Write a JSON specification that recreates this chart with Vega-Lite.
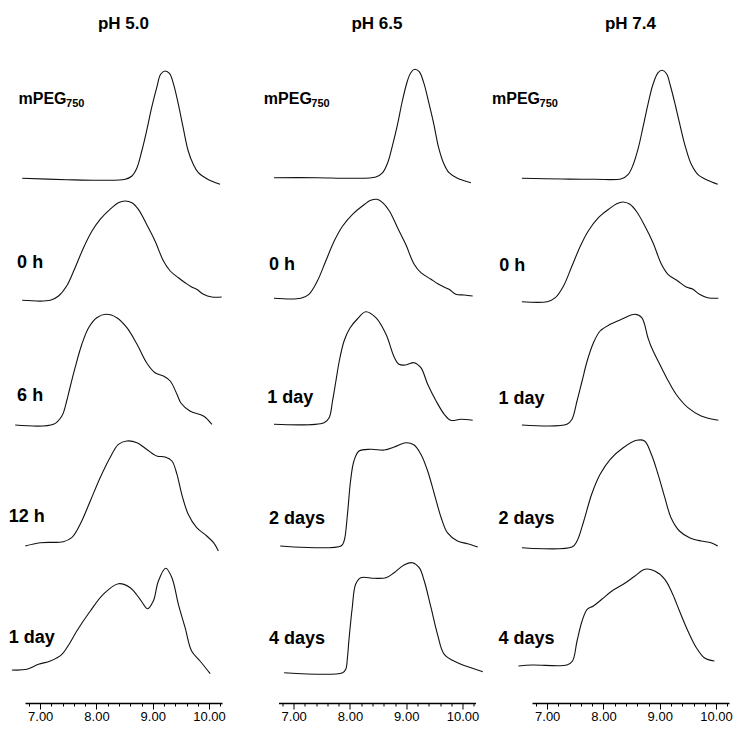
{
  "$schema": "https://vega.github.io/schema/vega-lite/v6.json",
  "padding": {"left": 8, "top": 15, "right": 0, "bottom": 0},
  "background": "white",
  "bounds": "flush",
  "config": {"view": {"stroke": null}},
  "data": {"values": [
    {"p":"pH 5.0","r":0,"x":6.68,"y":4.7},{"p":"pH 5.0","r":0,"x":7.47,"y":3.3},{"p":"pH 5.0","r":0,"x":8.065,"y":2.7},{"p":"pH 5.0","r":0,"x":8.51,"y":3.7},{"p":"pH 5.0","r":0,"x":8.63,"y":7},{"p":"pH 5.0","r":0,"x":8.72,"y":15.3},{"p":"pH 5.0","r":0,"x":8.805,"y":32},{"p":"pH 5.0","r":0,"x":8.89,"y":52},{"p":"pH 5.0","r":0,"x":8.98,"y":75.3},{"p":"pH 5.0","r":0,"x":9.07,"y":95.3},{"p":"pH 5.0","r":0,"x":9.14,"y":108.7},{"p":"pH 5.0","r":0,"x":9.22,"y":112},{"p":"pH 5.0","r":0,"x":9.3,"y":109.3},{"p":"pH 5.0","r":0,"x":9.37,"y":98.7},{"p":"pH 5.0","r":0,"x":9.455,"y":78.7},{"p":"pH 5.0","r":0,"x":9.54,"y":55.3},{"p":"pH 5.0","r":0,"x":9.63,"y":32},{"p":"pH 5.0","r":0,"x":9.72,"y":18.7},{"p":"pH 5.0","r":0,"x":9.81,"y":10.3},{"p":"pH 5.0","r":0,"x":9.96,"y":4.3},{"p":"pH 5.0","r":0,"x":10.195,"y":-1.3},
    {"p":"pH 5.0","r":1,"x":6.68,"y":4.7},{"p":"pH 5.0","r":1,"x":7.18,"y":4.7},{"p":"pH 5.0","r":1,"x":7.325,"y":9},{"p":"pH 5.0","r":1,"x":7.47,"y":19},{"p":"pH 5.0","r":1,"x":7.62,"y":37.3},{"p":"pH 5.0","r":1,"x":7.77,"y":57.3},{"p":"pH 5.0","r":1,"x":7.92,"y":74},{"p":"pH 5.0","r":1,"x":8.065,"y":85.7},{"p":"pH 5.0","r":1,"x":8.24,"y":95.7},{"p":"pH 5.0","r":1,"x":8.39,"y":102.3},{"p":"pH 5.0","r":1,"x":8.51,"y":104},{"p":"pH 5.0","r":1,"x":8.63,"y":102.3},{"p":"pH 5.0","r":1,"x":8.745,"y":95.7},{"p":"pH 5.0","r":1,"x":8.89,"y":80.7},{"p":"pH 5.0","r":1,"x":9.04,"y":64},{"p":"pH 5.0","r":1,"x":9.19,"y":44},{"p":"pH 5.0","r":1,"x":9.31,"y":34},{"p":"pH 5.0","r":1,"x":9.455,"y":27.3},{"p":"pH 5.0","r":1,"x":9.575,"y":22.3},{"p":"pH 5.0","r":1,"x":9.69,"y":18},{"p":"pH 5.0","r":1,"x":9.78,"y":15.7},{"p":"pH 5.0","r":1,"x":9.9,"y":10.7},{"p":"pH 5.0","r":1,"x":10.05,"y":8},{"p":"pH 5.0","r":1,"x":10.225,"y":8},
    {"p":"pH 5.0","r":2,"x":6.556,"y":2},{"p":"pH 5.0","r":2,"x":7.236,"y":2.7},{"p":"pH 5.0","r":2,"x":7.385,"y":11},{"p":"pH 5.0","r":2,"x":7.47,"y":26},{"p":"pH 5.0","r":2,"x":7.5,"y":32.7},{"p":"pH 5.0","r":2,"x":7.62,"y":59.3},{"p":"pH 5.0","r":2,"x":7.74,"y":82.7},{"p":"pH 5.0","r":2,"x":7.86,"y":99.3},{"p":"pH 5.0","r":2,"x":8.005,"y":109.3},{"p":"pH 5.0","r":2,"x":8.17,"y":112.7},{"p":"pH 5.0","r":2,"x":8.36,"y":109.3},{"p":"pH 5.0","r":2,"x":8.54,"y":99.3},{"p":"pH 5.0","r":2,"x":8.72,"y":82.7},{"p":"pH 5.0","r":2,"x":8.89,"y":64.3},{"p":"pH 5.0","r":2,"x":9.04,"y":54.3},{"p":"pH 5.0","r":2,"x":9.19,"y":51},{"p":"pH 5.0","r":2,"x":9.31,"y":46},{"p":"pH 5.0","r":2,"x":9.43,"y":32.7},{"p":"pH 5.0","r":2,"x":9.5,"y":24},{"p":"pH 5.0","r":2,"x":9.66,"y":16},{"p":"pH 5.0","r":2,"x":9.9,"y":11},{"p":"pH 5.0","r":2,"x":10.05,"y":2.7},
    {"p":"pH 5.0","r":3,"x":6.734,"y":3},{"p":"pH 5.0","r":3,"x":7.0,"y":6.3},{"p":"pH 5.0","r":3,"x":7.41,"y":7.3},{"p":"pH 5.0","r":3,"x":7.56,"y":11.3},{"p":"pH 5.0","r":3,"x":7.71,"y":24.7},{"p":"pH 5.0","r":3,"x":7.89,"y":48},{"p":"pH 5.0","r":3,"x":8.065,"y":71.3},{"p":"pH 5.0","r":3,"x":8.24,"y":91.3},{"p":"pH 5.0","r":3,"x":8.39,"y":104.7},{"p":"pH 5.0","r":3,"x":8.54,"y":108},{"p":"pH 5.0","r":3,"x":8.72,"y":106.3},{"p":"pH 5.0","r":3,"x":8.89,"y":99.7},{"p":"pH 5.0","r":3,"x":9.07,"y":93},{"p":"pH 5.0","r":3,"x":9.22,"y":92},{"p":"pH 5.0","r":3,"x":9.34,"y":88},{"p":"pH 5.0","r":3,"x":9.43,"y":74.7},{"p":"pH 5.0","r":3,"x":9.515,"y":54.7},{"p":"pH 5.0","r":3,"x":9.63,"y":34.7},{"p":"pH 5.0","r":3,"x":9.78,"y":21.3},{"p":"pH 5.0","r":3,"x":9.96,"y":13},{"p":"pH 5.0","r":3,"x":10.08,"y":6.3},{"p":"pH 5.0","r":3,"x":10.165,"y":-2},
    {"p":"pH 5.0","r":4,"x":6.497,"y":1},{"p":"pH 5.0","r":4,"x":6.764,"y":1.7},{"p":"pH 5.0","r":4,"x":6.97,"y":6.7},{"p":"pH 5.0","r":4,"x":7.18,"y":10},{"p":"pH 5.0","r":4,"x":7.385,"y":16.7},{"p":"pH 5.0","r":4,"x":7.53,"y":28.3},{"p":"pH 5.0","r":4,"x":7.65,"y":40},{"p":"pH 5.0","r":4,"x":7.89,"y":60},{"p":"pH 5.0","r":4,"x":8.12,"y":76.7},{"p":"pH 5.0","r":4,"x":8.39,"y":87.3},{"p":"pH 5.0","r":4,"x":8.6,"y":83.3},{"p":"pH 5.0","r":4,"x":8.775,"y":71.7},{"p":"pH 5.0","r":4,"x":8.91,"y":62.3},{"p":"pH 5.0","r":4,"x":9.01,"y":70},{"p":"pH 5.0","r":4,"x":9.1,"y":90},{"p":"pH 5.0","r":4,"x":9.23,"y":102.7},{"p":"pH 5.0","r":4,"x":9.34,"y":93.3},{"p":"pH 5.0","r":4,"x":9.455,"y":66.7},{"p":"pH 5.0","r":4,"x":9.575,"y":43.3},{"p":"pH 5.0","r":4,"x":9.69,"y":20},{"p":"pH 5.0","r":4,"x":9.84,"y":10},{"p":"pH 5.0","r":4,"x":10.02,"y":-2.7},
    {"p":"pH 6.5","r":0,"x":6.65,"y":5.3},{"p":"pH 6.5","r":0,"x":7.42,"y":5.3},{"p":"pH 6.5","r":0,"x":8.01,"y":4.7},{"p":"pH 6.5","r":0,"x":8.46,"y":6},{"p":"pH 6.5","r":0,"x":8.58,"y":10.3},{"p":"pH 6.5","r":0,"x":8.67,"y":20.3},{"p":"pH 6.5","r":0,"x":8.76,"y":38.7},{"p":"pH 6.5","r":0,"x":8.845,"y":58.7},{"p":"pH 6.5","r":0,"x":8.93,"y":82},{"p":"pH 6.5","r":0,"x":9.02,"y":102},{"p":"pH 6.5","r":0,"x":9.08,"y":110.3},{"p":"pH 6.5","r":0,"x":9.15,"y":113.7},{"p":"pH 6.5","r":0,"x":9.23,"y":111.3},{"p":"pH 6.5","r":0,"x":9.31,"y":100.3},{"p":"pH 6.5","r":0,"x":9.4,"y":80.3},{"p":"pH 6.5","r":0,"x":9.49,"y":58.7},{"p":"pH 6.5","r":0,"x":9.575,"y":35.3},{"p":"pH 6.5","r":0,"x":9.66,"y":20.3},{"p":"pH 6.5","r":0,"x":9.76,"y":10.3},{"p":"pH 6.5","r":0,"x":9.91,"y":4.7},{"p":"pH 6.5","r":0,"x":10.15,"y":0.3},
    {"p":"pH 6.5","r":1,"x":6.65,"y":6.7},{"p":"pH 6.5","r":1,"x":7.125,"y":6.7},{"p":"pH 6.5","r":1,"x":7.27,"y":10.7},{"p":"pH 6.5","r":1,"x":7.42,"y":24},{"p":"pH 6.5","r":1,"x":7.57,"y":44},{"p":"pH 6.5","r":1,"x":7.72,"y":64},{"p":"pH 6.5","r":1,"x":7.87,"y":79},{"p":"pH 6.5","r":1,"x":8.045,"y":90.7},{"p":"pH 6.5","r":1,"x":8.22,"y":99},{"p":"pH 6.5","r":1,"x":8.37,"y":104.7},{"p":"pH 6.5","r":1,"x":8.48,"y":105.7},{"p":"pH 6.5","r":1,"x":8.58,"y":102.3},{"p":"pH 6.5","r":1,"x":8.7,"y":94},{"p":"pH 6.5","r":1,"x":8.845,"y":77.3},{"p":"pH 6.5","r":1,"x":8.99,"y":60.7},{"p":"pH 6.5","r":1,"x":9.14,"y":40.7},{"p":"pH 6.5","r":1,"x":9.26,"y":32.3},{"p":"pH 6.5","r":1,"x":9.44,"y":25.7},{"p":"pH 6.5","r":1,"x":9.56,"y":21.3},{"p":"pH 6.5","r":1,"x":9.67,"y":18},{"p":"pH 6.5","r":1,"x":9.76,"y":15.7},{"p":"pH 6.5","r":1,"x":9.88,"y":10.7},{"p":"pH 6.5","r":1,"x":10.03,"y":10},{"p":"pH 6.5","r":1,"x":10.18,"y":9},
    {"p":"pH 6.5","r":2,"x":6.65,"y":2.7},{"p":"pH 6.5","r":2,"x":7.54,"y":4.3},{"p":"pH 6.5","r":2,"x":7.63,"y":9.3},{"p":"pH 6.5","r":2,"x":7.69,"y":26},{"p":"pH 6.5","r":2,"x":7.75,"y":46},{"p":"pH 6.5","r":2,"x":7.81,"y":66},{"p":"pH 6.5","r":2,"x":7.895,"y":86},{"p":"pH 6.5","r":2,"x":8.0,"y":99},{"p":"pH 6.5","r":2,"x":8.13,"y":108},{"p":"pH 6.5","r":2,"x":8.28,"y":115.3},{"p":"pH 6.5","r":2,"x":8.46,"y":109.3},{"p":"pH 6.5","r":2,"x":8.64,"y":92.7},{"p":"pH 6.5","r":2,"x":8.785,"y":70},{"p":"pH 6.5","r":2,"x":8.87,"y":62.7},{"p":"pH 6.5","r":2,"x":8.99,"y":62},{"p":"pH 6.5","r":2,"x":9.14,"y":64.3},{"p":"pH 6.5","r":2,"x":9.26,"y":59.3},{"p":"pH 6.5","r":2,"x":9.38,"y":42.7},{"p":"pH 6.5","r":2,"x":9.53,"y":26},{"p":"pH 6.5","r":2,"x":9.675,"y":12.7},{"p":"pH 6.5","r":2,"x":9.79,"y":6.7},{"p":"pH 6.5","r":2,"x":9.97,"y":7.7},{"p":"pH 6.5","r":2,"x":10.18,"y":6.7},
    {"p":"pH 6.5","r":3,"x":6.76,"y":3},{"p":"pH 6.5","r":3,"x":7.84,"y":3},{"p":"pH 6.5","r":3,"x":7.895,"y":8},{"p":"pH 6.5","r":3,"x":7.955,"y":34.7},{"p":"pH 6.5","r":3,"x":8.01,"y":68},{"p":"pH 6.5","r":3,"x":8.07,"y":88},{"p":"pH 6.5","r":3,"x":8.16,"y":98},{"p":"pH 6.5","r":3,"x":8.37,"y":99.7},{"p":"pH 6.5","r":3,"x":8.61,"y":99},{"p":"pH 6.5","r":3,"x":8.785,"y":102},{"p":"pH 6.5","r":3,"x":8.99,"y":106.3},{"p":"pH 6.5","r":3,"x":9.14,"y":104},{"p":"pH 6.5","r":3,"x":9.26,"y":94.7},{"p":"pH 6.5","r":3,"x":9.38,"y":78},{"p":"pH 6.5","r":3,"x":9.5,"y":54.7},{"p":"pH 6.5","r":3,"x":9.62,"y":31.3},{"p":"pH 6.5","r":3,"x":9.73,"y":16.3},{"p":"pH 6.5","r":3,"x":9.91,"y":8},{"p":"pH 6.5","r":3,"x":10.09,"y":5.3},{"p":"pH 6.5","r":3,"x":10.27,"y":2},
    {"p":"pH 6.5","r":4,"x":6.83,"y":-1.7},{"p":"pH 6.5","r":4,"x":7.87,"y":-1.7},{"p":"pH 6.5","r":4,"x":7.925,"y":1.7},{"p":"pH 6.5","r":4,"x":7.955,"y":13.3},{"p":"pH 6.5","r":4,"x":7.98,"y":30},{"p":"pH 6.5","r":4,"x":8.04,"y":63.3},{"p":"pH 6.5","r":4,"x":8.1,"y":86.7},{"p":"pH 6.5","r":4,"x":8.19,"y":93.3},{"p":"pH 6.5","r":4,"x":8.43,"y":92.7},{"p":"pH 6.5","r":4,"x":8.64,"y":93.3},{"p":"pH 6.5","r":4,"x":8.785,"y":98.3},{"p":"pH 6.5","r":4,"x":8.96,"y":106},{"p":"pH 6.5","r":4,"x":9.11,"y":108.3},{"p":"pH 6.5","r":4,"x":9.23,"y":103.3},{"p":"pH 6.5","r":4,"x":9.32,"y":90},{"p":"pH 6.5","r":4,"x":9.44,"y":63.3},{"p":"pH 6.5","r":4,"x":9.555,"y":36.7},{"p":"pH 6.5","r":4,"x":9.675,"y":16.7},{"p":"pH 6.5","r":4,"x":9.91,"y":8.3},{"p":"pH 6.5","r":4,"x":10.15,"y":3.3},{"p":"pH 6.5","r":4,"x":10.36,"y":-0.7},
    {"p":"pH 7.4","r":0,"x":6.55,"y":4.7},{"p":"pH 7.4","r":0,"x":7.265,"y":4},{"p":"pH 7.4","r":0,"x":7.85,"y":3.7},{"p":"pH 7.4","r":0,"x":8.32,"y":4.3},{"p":"pH 7.4","r":0,"x":8.44,"y":8.7},{"p":"pH 7.4","r":0,"x":8.53,"y":18.7},{"p":"pH 7.4","r":0,"x":8.62,"y":35.3},{"p":"pH 7.4","r":0,"x":8.7,"y":55.3},{"p":"pH 7.4","r":0,"x":8.79,"y":78.7},{"p":"pH 7.4","r":0,"x":8.88,"y":98.7},{"p":"pH 7.4","r":0,"x":8.97,"y":110.3},{"p":"pH 7.4","r":0,"x":9.04,"y":112.7},{"p":"pH 7.4","r":0,"x":9.12,"y":109.3},{"p":"pH 7.4","r":0,"x":9.19,"y":97},{"p":"pH 7.4","r":0,"x":9.28,"y":77},{"p":"pH 7.4","r":0,"x":9.37,"y":55.3},{"p":"pH 7.4","r":0,"x":9.46,"y":35.3},{"p":"pH 7.4","r":0,"x":9.56,"y":18.7},{"p":"pH 7.4","r":0,"x":9.675,"y":8.7},{"p":"pH 7.4","r":0,"x":9.85,"y":2.7},{"p":"pH 7.4","r":0,"x":10.03,"y":-1.3},
    {"p":"pH 7.4","r":1,"x":6.55,"y":3.3},{"p":"pH 7.4","r":1,"x":7.0,"y":3.3},{"p":"pH 7.4","r":1,"x":7.145,"y":7.3},{"p":"pH 7.4","r":1,"x":7.29,"y":19},{"p":"pH 7.4","r":1,"x":7.44,"y":39},{"p":"pH 7.4","r":1,"x":7.59,"y":59},{"p":"pH 7.4","r":1,"x":7.73,"y":74},{"p":"pH 7.4","r":1,"x":7.91,"y":87.3},{"p":"pH 7.4","r":1,"x":8.09,"y":95.7},{"p":"pH 7.4","r":1,"x":8.235,"y":101.3},{"p":"pH 7.4","r":1,"x":8.35,"y":103},{"p":"pH 7.4","r":1,"x":8.47,"y":100.7},{"p":"pH 7.4","r":1,"x":8.59,"y":93.3},{"p":"pH 7.4","r":1,"x":8.735,"y":79},{"p":"pH 7.4","r":1,"x":8.88,"y":62.3},{"p":"pH 7.4","r":1,"x":9.03,"y":40.7},{"p":"pH 7.4","r":1,"x":9.145,"y":30.7},{"p":"pH 7.4","r":1,"x":9.32,"y":24},{"p":"pH 7.4","r":1,"x":9.47,"y":18},{"p":"pH 7.4","r":1,"x":9.59,"y":15.7},{"p":"pH 7.4","r":1,"x":9.705,"y":10.7},{"p":"pH 7.4","r":1,"x":9.85,"y":7.3},{"p":"pH 7.4","r":1,"x":10.04,"y":6.7},
    {"p":"pH 7.4","r":2,"x":6.55,"y":2},{"p":"pH 7.4","r":2,"x":7.35,"y":2.7},{"p":"pH 7.4","r":2,"x":7.44,"y":7.7},{"p":"pH 7.4","r":2,"x":7.53,"y":26},{"p":"pH 7.4","r":2,"x":7.62,"y":46},{"p":"pH 7.4","r":2,"x":7.71,"y":66},{"p":"pH 7.4","r":2,"x":7.82,"y":84},{"p":"pH 7.4","r":2,"x":7.94,"y":96},{"p":"pH 7.4","r":2,"x":8.12,"y":102.7},{"p":"pH 7.4","r":2,"x":8.32,"y":107.7},{"p":"pH 7.4","r":2,"x":8.56,"y":112.7},{"p":"pH 7.4","r":2,"x":8.68,"y":109.3},{"p":"pH 7.4","r":2,"x":8.79,"y":89.3},{"p":"pH 7.4","r":2,"x":8.85,"y":80},{"p":"pH 7.4","r":2,"x":8.97,"y":66},{"p":"pH 7.4","r":2,"x":9.12,"y":49.3},{"p":"pH 7.4","r":2,"x":9.29,"y":32.7},{"p":"pH 7.4","r":2,"x":9.5,"y":19.3},{"p":"pH 7.4","r":2,"x":9.735,"y":11},{"p":"pH 7.4","r":2,"x":10.04,"y":6.7},
    {"p":"pH 7.4","r":3,"x":6.55,"y":1.3},{"p":"pH 7.4","r":3,"x":7.44,"y":2},{"p":"pH 7.4","r":3,"x":7.53,"y":8},{"p":"pH 7.4","r":3,"x":7.65,"y":28},{"p":"pH 7.4","r":3,"x":7.79,"y":54.7},{"p":"pH 7.4","r":3,"x":7.94,"y":74.7},{"p":"pH 7.4","r":3,"x":8.12,"y":89.7},{"p":"pH 7.4","r":3,"x":8.35,"y":101.3},{"p":"pH 7.4","r":3,"x":8.59,"y":108.7},{"p":"pH 7.4","r":3,"x":8.73,"y":108},{"p":"pH 7.4","r":3,"x":8.85,"y":94.7},{"p":"pH 7.4","r":3,"x":8.97,"y":74.7},{"p":"pH 7.4","r":3,"x":9.09,"y":51.3},{"p":"pH 7.4","r":3,"x":9.2,"y":31.3},{"p":"pH 7.4","r":3,"x":9.35,"y":18},{"p":"pH 7.4","r":3,"x":9.53,"y":11.3},{"p":"pH 7.4","r":3,"x":9.735,"y":8},{"p":"pH 7.4","r":3,"x":9.91,"y":6.3},{"p":"pH 7.4","r":3,"x":10.03,"y":3},
    {"p":"pH 7.4","r":4,"x":6.49,"y":5},{"p":"pH 7.4","r":4,"x":6.735,"y":6},{"p":"pH 7.4","r":4,"x":7.35,"y":6},{"p":"pH 7.4","r":4,"x":7.45,"y":10},{"p":"pH 7.4","r":4,"x":7.53,"y":30},{"p":"pH 7.4","r":4,"x":7.62,"y":50},{"p":"pH 7.4","r":4,"x":7.71,"y":61.7},{"p":"pH 7.4","r":4,"x":7.82,"y":65},{"p":"pH 7.4","r":4,"x":7.97,"y":71.7},{"p":"pH 7.4","r":4,"x":8.15,"y":80},{"p":"pH 7.4","r":4,"x":8.35,"y":86.7},{"p":"pH 7.4","r":4,"x":8.56,"y":95},{"p":"pH 7.4","r":4,"x":8.735,"y":101.7},{"p":"pH 7.4","r":4,"x":8.91,"y":100},{"p":"pH 7.4","r":4,"x":9.09,"y":91.7},{"p":"pH 7.4","r":4,"x":9.23,"y":76.7},{"p":"pH 7.4","r":4,"x":9.35,"y":60},{"p":"pH 7.4","r":4,"x":9.5,"y":40},{"p":"pH 7.4","r":4,"x":9.65,"y":23.3},{"p":"pH 7.4","r":4,"x":9.79,"y":13.3},{"p":"pH 7.4","r":4,"x":9.97,"y":10},
    {"p":"pH 5.0","r":0,"x":6.615,"y":79,"label":"mPEG","sub":"750"},
    {"p":"pH 5.0","r":1,"x":6.59,"y":37,"label":"0 h"},
    {"p":"pH 5.0","r":2,"x":6.59,"y":26,"label":"6 h"},
    {"p":"pH 5.0","r":3,"x":6.44,"y":27,"label":"12 h"},
    {"p":"pH 5.0","r":4,"x":6.44,"y":28,"label":"1 day"},
    {"p":"pH 6.5","r":0,"x":6.47,"y":79,"label":"mPEG","sub":"750"},
    {"p":"pH 6.5","r":1,"x":6.56,"y":35,"label":"0 h"},
    {"p":"pH 6.5","r":2,"x":6.53,"y":24,"label":"1 day"},
    {"p":"pH 6.5","r":3,"x":6.56,"y":25,"label":"2 days"},
    {"p":"pH 6.5","r":4,"x":6.56,"y":27,"label":"4 days"},
    {"p":"pH 7.4","r":0,"x":6.02,"y":79,"label":"mPEG","sub":"750"},
    {"p":"pH 7.4","r":1,"x":6.15,"y":34,"label":"0 h"},
    {"p":"pH 7.4","r":2,"x":6.135,"y":23,"label":"1 day"},
    {"p":"pH 7.4","r":3,"x":6.135,"y":25,"label":"2 days"},
    {"p":"pH 7.4","r":4,"x":6.135,"y":27,"label":"4 days"}
  ]},
  "facet": {
    "row": {"field": "r", "type": "ordinal", "header": null},
    "column": {"field": "p", "type": "nominal", "title": null,
      "header": {"labelFontSize": 17, "labelFontWeight": "bold", "labelFont": "Liberation Sans, Arial, sans-serif", "labelColor": "black", "labelPadding": 35}}
  },
  "spacing": {"row": 7, "column": 56.5},
  "spec": {
    "width": 197,
    "height": 115,
    "encoding": {
      "x": {"field": "x", "type": "quantitative",
        "scale": {"domain": [6.73, 10.23], "nice": false, "zero": false},
        "axis": {"title": null, "grid": false, "offset": 32,
          "values": [6.8,7,7.2,7.4,7.6,7.8,8,8.2,8.4,8.6,8.8,9,9.2,9.4,9.6,9.8,10,10.2],
          "labelExpr": "abs(datum.value - round(datum.value)) < 0.01 ? format(datum.value, '.2f') : ''",
          "tickSize": {"condition": {"test": "abs(datum.value - round(datum.value)) < 0.01", "value": 6}, "value": 3},
          "labelPadding": 1, "labelFlush": false, "labelOverlap": false,
          "domainColor": "black", "domainWidth": 1.3, "tickColor": "black", "tickWidth": 1,
          "labelColor": "black", "labelFontSize": 13, "labelFont": "Liberation Sans, Arial, sans-serif"}},
      "y": {"field": "y", "type": "quantitative",
        "scale": {"domain": [0, 115], "nice": false, "zero": false}, "axis": null}
    },
    "layer": [
      {"transform": [{"filter": "datum.label == null"}],
       "mark": {"type": "line", "color": "#111", "strokeWidth": 1.1, "interpolate": "catmull-rom"}},
      {"transform": [{"filter": "datum.label != null && datum.r > 0"}],
       "mark": {"type": "text", "align": "left", "baseline": "alphabetic", "fontSize": 18, "fontWeight": "bold", "font": "Liberation Sans, Arial, sans-serif", "color": "black"},
       "encoding": {"text": {"field": "label"}}},
      {"transform": [{"filter": "datum.label != null && datum.r == 0"}],
       "mark": {"type": "text", "align": "left", "baseline": "alphabetic", "fontSize": 16, "fontWeight": "bold", "font": "Liberation Sans, Arial, sans-serif", "color": "black"},
       "encoding": {"text": {"field": "label"}}},
      {"transform": [{"filter": "datum.sub != null"}],
       "mark": {"type": "text", "align": "left", "baseline": "alphabetic", "fontSize": 11, "fontWeight": "bold", "dx": 47.5, "dy": 2.5, "font": "Liberation Sans, Arial, sans-serif", "color": "black"},
       "encoding": {"text": {"field": "sub"}}}
    ]
  }
}
